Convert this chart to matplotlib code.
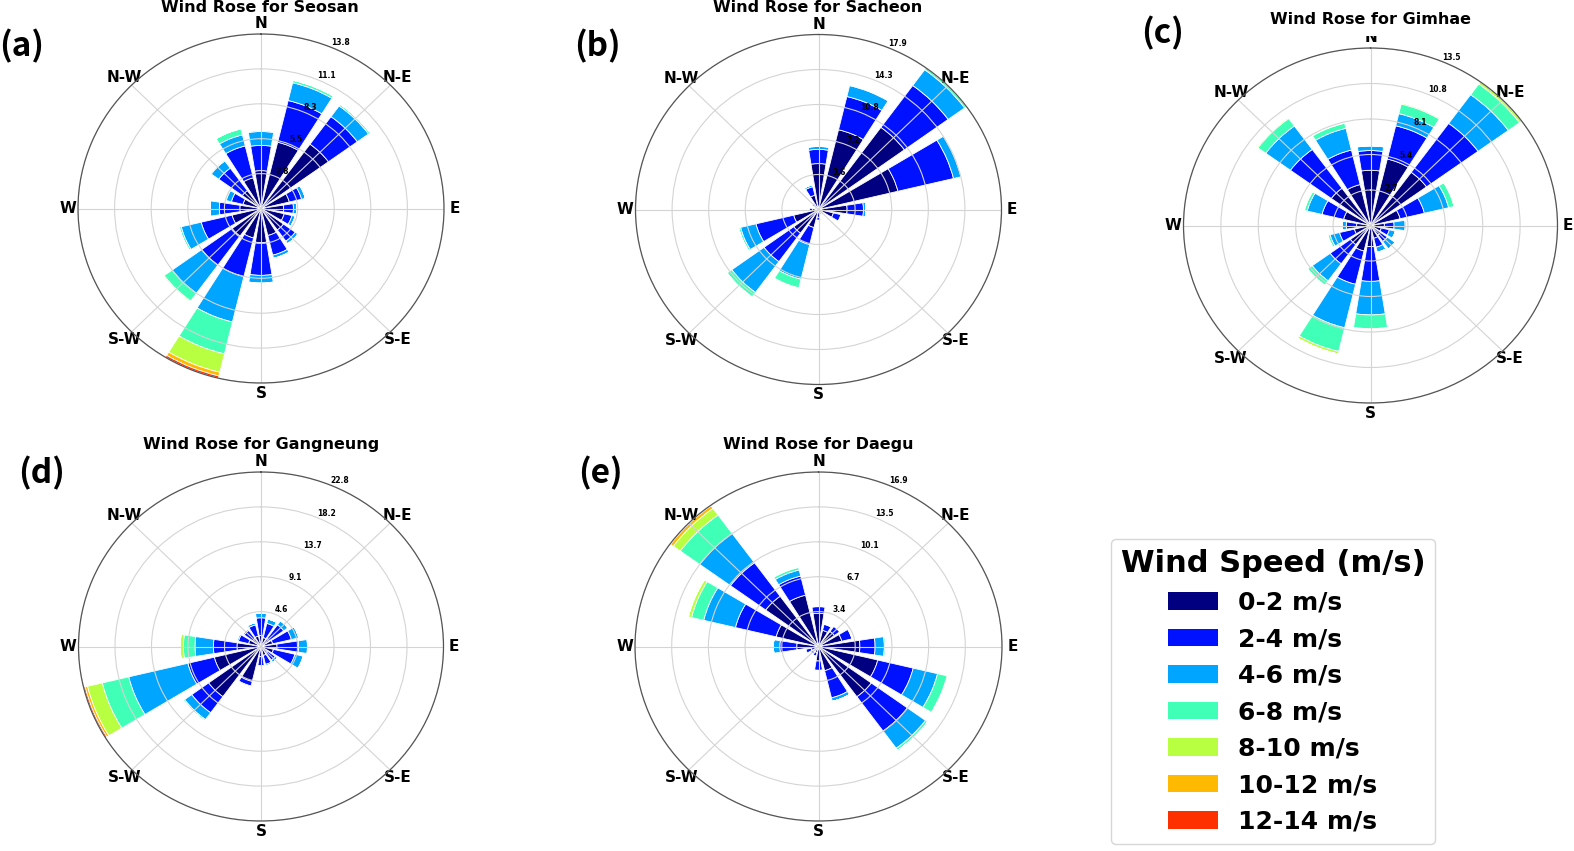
import matplotlib.pyplot as plt
import numpy as np
from matplotlib.patches import Patch

directions = ['N', 'NNE', 'NE', 'ENE', 'E', 'ESE', 'SE', 'SSE',
              'S', 'SSW', 'SW', 'WSW', 'W', 'WNW', 'NW', 'NNW']
speed_labels = ['0-2 m/s', '2-4 m/s', '4-6 m/s', '6-8 m/s',
                '8-10 m/s', '10-12 m/s', '12-14 m/s']
compass_labels = ['N', 'N-E', 'E', 'S-E', 'S', 'S-W', 'W', 'N-W']

# frequency (%) per direction (rows, N clockwise) and speed bin (cols)
seosan = [
    [3.0, 2.0, 1.1, 0.1],
    [5.4, 3.4, 1.45, 0.2],
    [6.3, 2.7, 1.05, 0.15],
    [2.2, 0.95, 0.3],
    [1.7, 0.75, 0.25],
    [1.8, 0.6, 0.25],
    [2.1, 1.1, 0.25],
    [2.2, 1.6, 0.25, 0.02],
    [2.7, 2.6, 0.6, 0.05],
    [2.4, 3.15, 3.7, 2.6, 1.5, 0.3, 0.18],
    [2.7, 2.85, 2.75, 0.75, 0.1],
    [2.25, 2.4, 1.55, 0.15],
    [1.6, 1.55, 0.7],
    [1.4, 0.9, 0.4, 0.1],
    [1.75, 2.2, 0.7, 0.1],
    [2.5, 2.6, 0.9, 0.5],
]
sacheon = [
    [4.7, 1.45, 0.3, 0.03],
    [8.4, 3.5, 1.15, 0.1],
    [10.4, 5.3, 2.0, 0.225],
    [8.0, 5.6, 0.75, 0.1],
    [2.8, 1.6, 0.25],
    [1.5, 0.75, 0.1],
    [0.5, 0.2],
    [0.4, 0.2],
    [0.8, 0.3, 0.05],
    [1.9, 1.8, 3.65, 0.9, 0.1],
    [3.0, 3.6, 3.9, 0.55, 0.05],
    [2.5, 3.8, 1.55, 0.2],
    [0.6, 0.3, 0.1],
    [0.4, 0.1],
    [0.5, 0.3, 0.05],
    [1.5, 0.9, 0.2],
]
gimhae = [
    [4.2, 1.5, 0.35, 0.02],
    [5.2, 2.6, 0.95, 0.75, 0.1],
    [5.0, 4.6, 2.7, 1.0, 0.2],
    [2.2, 1.8, 1.8, 0.4, 0.07],
    [1.0, 0.7, 0.8, 0.1],
    [0.8, 0.6, 0.45],
    [0.9, 0.6, 0.7],
    [1.0, 0.7, 0.4],
    [1.6, 2.65, 2.55, 1.05, 0.05],
    [2.0, 2.6, 3.4, 1.85, 0.2],
    [1.8, 1.8, 1.6, 0.4, 0.07],
    [1.2, 1.1, 0.7, 0.15, 0.05],
    [1.0, 0.75, 0.3],
    [2.0, 1.6, 1.1, 0.2, 0.05],
    [3.5, 3.65, 2.2, 0.7, 0.1],
    [3.2, 2.7, 1.7, 0.4, 0.04],
]
gangneung = [
    [1.45, 2.3, 0.6],
    [1.2, 1.9, 0.6],
    [1.3, 2.2, 0.65],
    [1.5, 2.4, 0.95],
    [2.0, 2.7, 1.1, 0.1],
    [1.6, 2.75, 1.05, 0.05],
    [1.0, 1.2, 0.35],
    [1.2, 1.2, 0.2],
    [1.3, 1.2, 0.2],
    [4.7, 0.6, 0.15],
    [8.1, 2.6, 1.1, 0.2],
    [6.0, 3.4, 7.6, 3.4, 1.9, 0.3, 0.2],
    [3.0, 2.95, 2.3, 1.45, 0.4],
    [1.6, 1.3, 0.2],
    [1.3, 1.3, 0.2],
    [1.4, 1.5, 0.3],
]
daegu = [
    [3.2, 0.65, 0.05],
    [1.6, 0.6, 0.05],
    [1.8, 0.6, 0.05],
    [2.2, 0.95, 0.05],
    [3.8, 1.4, 0.85, 0.12, 0.03],
    [5.6, 3.35, 2.3, 0.9, 0.1],
    [6.0, 4.1, 2.05, 0.25],
    [2.4, 2.7, 0.35],
    [1.4, 0.9, 0.05],
    [0.6, 0.35, 0.05],
    [0.6, 0.3, 0.05],
    [0.7, 0.5, 0.1],
    [2.0, 1.55, 0.6],
    [4.0, 3.85, 3.0, 1.15, 0.3],
    [6.0, 4.0, 3.5, 2.2, 0.8, 0.3, 0.06],
    [5.1, 1.9, 0.6, 0.25, 0.07],
]

stations = ['Seosan', 'Sacheon', 'Gimhae', 'Gangneung', 'Daegu']
tags = ['(a)', '(b)', '(c)', '(d)', '(e)']
tables = [seosan, sacheon, gimhae, gangneung, daegu]

W, H = 1574, 851
# centre x, centre y, radius x, radius y (pixels) of each rose
layout = [(261, 208.5, 183, 174.5),
          (818.5, 209.5, 183, 175),
          (1370.5, 225.5, 187, 177.5),
          (261, 646.5, 182.5, 174.5),
          (818.5, 646.5, 183.5, 174.5)]
title_pos = [(260, 7), (818, 7), (1370, 20), (261, 444), (818, 444)]
tag_pos = [(22, 46), (597, 46), (1163, 33), (42, 473), (600, 473)]

colors = plt.cm.jet(np.linspace(0, 1, 8))[:7]

fig = plt.figure(figsize=(W / 100, H / 100), dpi=100)

theta = np.deg2rad(np.arange(16) * 22.5)
width = 2 * np.pi / 16 * 0.8

for k, name in enumerate(stations):
    table = np.zeros((16, 7))
    for i, row in enumerate(tables[k]):
        table[i, :len(row)] = row
    cx, cy, rx, ry = layout[k]
    ax = fig.add_axes([(cx - rx) / W, (H - cy - ry) / H, 2 * rx / W, 2 * ry / H],
                      projection='polar')
    ax.set_theta_zero_location('N')
    ax.set_theta_direction(-1)
    offset = np.zeros(16)
    for j in range(7):
        ax.bar(theta, table[:, j], width=width, bottom=offset, color=colors[j],
               edgecolor='white', linewidth=0.6)
        offset += table[:, j]
    rmax = offset.max()
    ax.set_ylim(0, rmax)
    radii = np.linspace(0, rmax, 6)[1:]
    ax.set_rgrids(radii, labels=['%.1f' % r for r in radii], angle=22.5,
                  fontsize=5.5, fontweight='bold')
    ax.set_thetagrids(np.arange(0, 360, 45), labels=compass_labels,
                      fontsize=11, fontweight='bold')
    ax.tick_params(axis='x', pad=-3)
    ax.grid(color='#d4d4d4', linewidth=0.8)
    ax.spines['polar'].set_color('#555555')
    ax.spines['polar'].set_linewidth(0.9)
    ax.set_aspect('auto')

    tx, ty = title_pos[k]
    title = fig.text(tx / W, 1 - ty / H, 'Wind Rose for ' + name, ha='center',
                     va='center', fontsize=11.5, fontweight='bold', zorder=5)
    if name == 'Gimhae':
        # the title box covers the top of the N label in this panel
        title.set_bbox(dict(facecolor='white', edgecolor='none', pad=6))
    gx, gy = tag_pos[k]
    fig.text(gx / W, 1 - gy / H, tags[k], ha='center', va='center', fontsize=24,
             fontweight='black', family=['Noto Sans CJK KR', 'DejaVu Sans'])

handles = [Patch(facecolor=c) for c in colors]
leg = fig.legend(handles, speed_labels, loc='center', bbox_to_anchor=(1273 / W, 1 - 691.5 / H),
                 prop={'weight': 'bold', 'size': 18}, title='Wind Speed (m/s)',
                 title_fontproperties={'weight': 'bold', 'size': 22})

fig.savefig('out.png', dpi=100)
